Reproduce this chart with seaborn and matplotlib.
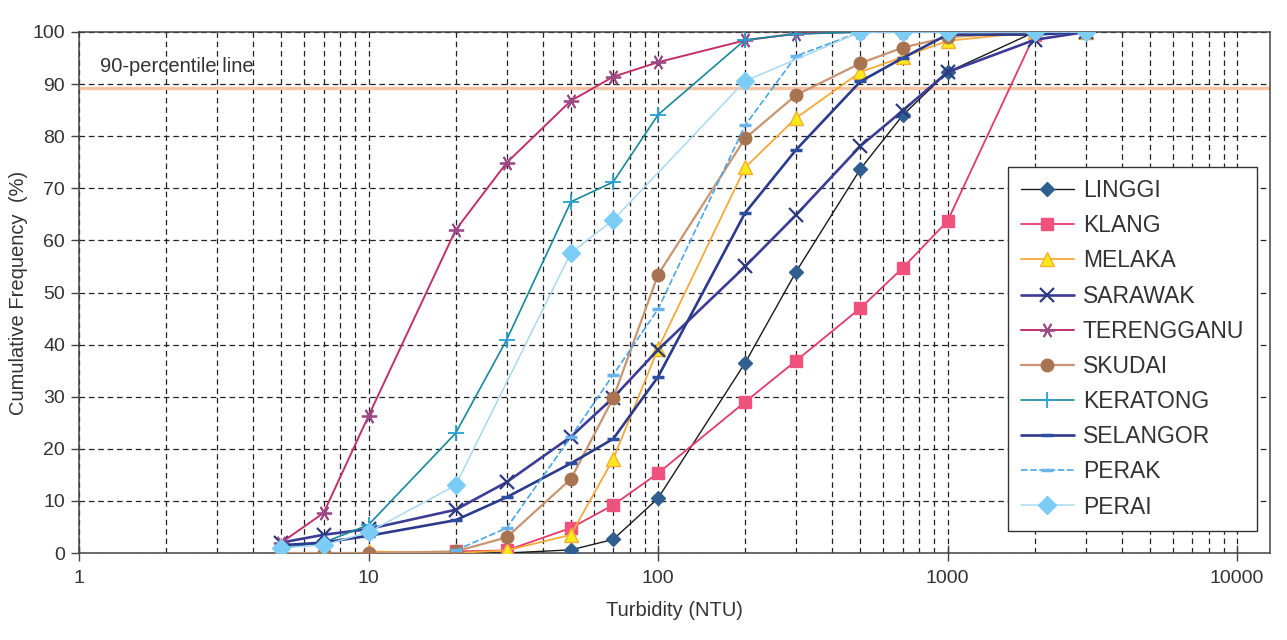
import numpy as np
import pandas as pd
import matplotlib
matplotlib.use("Agg")
import matplotlib.pyplot as plt
import seaborn as sns
from matplotlib.ticker import LogLocator, FixedLocator, NullFormatter

# ---------------- data ----------------
LINGGI_X = [20, 30, 50, 70, 100, 200, 300, 500, 700, 1000, 2000, 3000]
LINGGI_Y = [0, 0, 0.6, 2.6, 10.5, 36.5, 54, 73.7, 84, 92.3, 100, 100]

KLANG_X = [20, 30, 50, 70, 100, 200, 300, 500, 700, 1000, 2000, 3000]
KLANG_Y = [0.3, 0.5, 4.8, 9.2, 15.3, 29, 36.9, 47, 54.7, 63.7, 99.5, 100]

MELAKA_X = [10, 20, 30, 50, 70, 100, 200, 300, 500, 700, 1000, 2000, 3000]
MELAKA_Y = [0.3, 0, 0.5, 3.5, 18, 39.2, 74, 83.5, 92.3, 95.2, 98.3, 100, 100]

SARAWAK_X = [5, 7, 10, 20, 30, 50, 70, 100, 200, 300, 500, 700, 1000, 2000, 3000]
SARAWAK_Y = [2, 3.5, 4.6, 8.3, 13.6, 22.3, 29.8, 39, 55, 64.9, 78.1, 84.9, 92.3, 98.5, 100]

TERENGGANU_X = [5, 7, 10, 20, 30, 50, 70, 100, 200, 300, 500, 700, 1000, 2000, 3000]
TERENGGANU_Y = [2, 7.7, 26.3, 62, 74.9, 86.8, 91.4, 94.2, 98.4, 99.7, 100, 100, 100, 100, 100]

SKUDAI_X = [5, 7, 10, 20, 30, 50, 70, 100, 200, 300, 500, 700, 1000, 2000, 3000]
SKUDAI_Y = [0, 0, 0, 0.3, 3, 14.2, 29.7, 53.4, 79.6, 87.9, 94, 97, 99, 100, 100]

KERATONG_X = [5, 7, 10, 20, 30, 50, 70, 100, 200, 300, 500, 700, 1000, 2000, 3000]
KERATONG_Y = [1, 2, 5.4, 23, 40.9, 67.4, 71.2, 84.1, 98.5, 99.6, 100, 100, 100, 100, 100]

SELANGOR_X = [5, 7, 10, 20, 30, 50, 70, 100, 200, 300, 500, 700, 1000, 2000, 3000]
SELANGOR_Y = [1.5, 2, 3.3, 6.3, 10.7, 17.2, 21.9, 33.8, 65.3, 77.4, 90.5, 95, 99.5, 99.5, 100]

PERAK_X = [20, 30, 50, 70, 100, 200, 300, 500, 700, 1000, 2000, 3000]
PERAK_Y = [0.5, 4.8, 22.3, 34.2, 46.8, 82.1, 95.4, 100, 100, 100, 100, 100]

PERAI_X = [5, 7, 10, 20, 50, 70, 200, 500, 700, 1000, 2000, 3000]
PERAI_Y = [1, 1.5, 4, 13, 57.6, 63.9, 90.6, 100, 100, 100, 100, 100]

SERIES_NAMES = ["LINGGI", "KLANG", "MELAKA", "SARAWAK", "TERENGGANU",
                "SKUDAI", "KERATONG", "SELANGOR", "PERAK", "PERAI"]
SERIES_X = [LINGGI_X, KLANG_X, MELAKA_X, SARAWAK_X, TERENGGANU_X,
            SKUDAI_X, KERATONG_X, SELANGOR_X, PERAK_X, PERAI_X]
SERIES_Y = [LINGGI_Y, KLANG_Y, MELAKA_Y, SARAWAK_Y, TERENGGANU_Y,
            SKUDAI_Y, KERATONG_Y, SELANGOR_Y, PERAK_Y, PERAI_Y]

PERCENTILE_LEVEL = 89.3
Y_TICKS = [0, 10, 20, 30, 40, 50, 60, 70, 80, 90, 100]
X_TICKS = [1, 10, 100, 1000, 10000]

# ---------------- styles ----------------
STYLES = {
    "LINGGI":     dict(color="#1a1a1a", lw=1.0, ls="-", marker="D", ms=7,
                       mfc="#2f5f8f", mec="#2f5f8f"),
    "KLANG":      dict(color="#e23a6c", lw=1.3, ls="-", marker="s", ms=8,
                       mfc="#f0527e", mec="#f0527e"),
    "MELAKA":     dict(color="#f4a93a", lw=1.3, ls="-", marker="^", ms=10,
                       mfc="#ffe81a", mec="#f4b030"),
    "SARAWAK":    dict(color="#3c3c96", lw=1.9, ls="-", marker="x", ms=10,
                       mfc="#2d3a80", mec="#2d3a80", mew=1.6),
    "TERENGGANU": dict(color="#c2306c", lw=1.4, ls="-", marker=(6, 2, 90), ms=11,
                       mfc="#9c4a86", mec="#9c4a86", mew=1.3),
    "SKUDAI":     dict(color="#c99470", lw=1.6, ls="-", marker="o", ms=9,
                       mfc="#a87350", mec="#a87350"),
    "KERATONG":   dict(color="#18889a", lw=1.2, ls="-", marker="+", ms=12,
                       mfc="#26a0d2", mec="#26a0d2", mew=1.3),
    "SELANGOR":   dict(color="#2c3a8c", lw=1.9, ls="-", marker="_", ms=9,
                       mfc="#2c4ea0", mec="#2c4ea0", mew=2.5),
    "PERAK":      dict(color="#4aa6e6", lw=1.2, ls=(0, (4, 1.5)), marker="_", ms=9,
                       mfc="#6ab4ee", mec="#6ab4ee", mew=2.5),
    "PERAI":      dict(color="#a9d9f2", lw=1.1, ls="-", marker="D", ms=9,
                       mfc="#7ccdf6", mec="#7ccdf6"),
}

# ---------------- figure ----------------
sns.set_theme(style="white")
plt.rcParams["font.family"] = ["Liberation Sans", "DejaVu Sans"]

fig = plt.figure(figsize=(12.87, 6.40), dpi=100)
ax = fig.add_axes([79 / 1287, 1 - 553 / 640, (1270 - 79) / 1287, (553 - 32) / 640])

text_color = "#333333"

for name, xs, ys in zip(SERIES_NAMES, SERIES_X, SERIES_Y):
    st = STYLES[name]
    df = pd.DataFrame({"x": xs, "y": ys})
    sns.lineplot(data=df, x="x", y="y", ax=ax, label=name,
                 color=st["color"], linewidth=st["lw"], linestyle=st["ls"],
                 marker=st["marker"], markersize=st["ms"],
                 markerfacecolor=st["mfc"], markeredgecolor=st["mec"],
                 markeredgewidth=st.get("mew", 1.0), sort=False, zorder=3)

ax.set_xscale("log")
ax.set_xlim(1, 13000)
ax.set_ylim(0, 100)

# grid
ax.xaxis.set_major_locator(FixedLocator(X_TICKS))
ax.xaxis.set_minor_locator(LogLocator(base=10, subs=np.arange(2, 10)))
ax.xaxis.set_minor_formatter(NullFormatter())
ax.set_xticklabels([str(v) for v in X_TICKS])
ax.set_yticks(Y_TICKS)
ax.set_yticklabels([str(v) for v in Y_TICKS])

dash = (0, (4.5, 3))
ax.grid(False)
ax.grid(which="major", axis="y", color="#222222", linestyle=dash, linewidth=0.9, zorder=1)
ax.grid(which="both", axis="x", color="#222222", linestyle=dash, linewidth=0.9, zorder=1)
ax.set_axisbelow(True)

# percentile line
ax.axhline(PERCENTILE_LEVEL, color="#f7c3a5", linewidth=2.4, zorder=2)
ax.text(1.18, 91.6, "90-percentile line", fontsize=14.5, color=text_color,
        ha="left", va="bottom", zorder=4)

for sp in ax.spines.values():
    sp.set_color("#444444")
    sp.set_linewidth(1.1)
    sp.set_visible(True)

ax.tick_params(axis="y", which="major", direction="out", length=6, width=1,
               color="#444444", labelsize=14, labelcolor=text_color, pad=4, left=True)
ax.tick_params(axis="x", which="major", direction="inout", length=12, width=1,
               color="#444444", labelsize=14, labelcolor=text_color, pad=6, bottom=True)
ax.tick_params(axis="x", which="minor", length=0)

ax.set_xlabel("Turbidity (NTU)", fontsize=14.5, color=text_color, labelpad=10)
ax.set_ylabel("Cumulative Frequency  (%)", fontsize=14.5, color=text_color, labelpad=3)

leg = ax.legend(loc="lower right", bbox_to_anchor=(0.989, 0.042), fontsize=16.5,
                frameon=True, fancybox=False, framealpha=1, edgecolor="#333333",
                handlelength=2.3, handletextpad=0.4, labelspacing=0.53,
                borderpad=0.55, borderaxespad=0)
leg.get_frame().set_linewidth(1.0)
for t in leg.get_texts():
    t.set_color(text_color)

fig.savefig("out.png", dpi=100)
